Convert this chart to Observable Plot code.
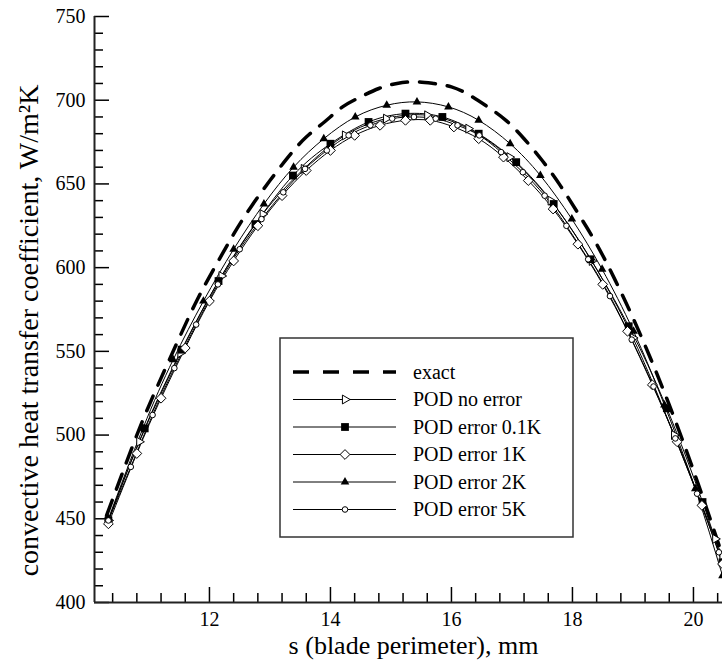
<!DOCTYPE html>
<html><head><meta charset="utf-8">
<script src="https://cdn.jsdelivr.net/npm/d3@7"></script>
<script src="https://cdn.jsdelivr.net/npm/@observablehq/plot@0.6"></script>
<style>body{margin:0;background:#fff} svg text{font-family:'Liberation Serif','Times New Roman',serif}</style>
</head><body><div id="chart"></div>
<script>
// ---- data ----
const exactS = [10.3, 10.6, 10.9, 11.2, 11.5, 11.8, 12.1, 12.4, 12.7, 13.0, 13.3, 13.6, 13.9, 14.2, 14.5, 14.8, 15.1, 15.4, 15.7, 16.0, 16.3, 16.6, 16.9, 17.2, 17.5, 17.8, 18.1, 18.4, 18.7, 19.0, 19.3, 19.6, 19.9, 20.2, 20.48];
const exactH = [452, 481, 509, 534, 558, 581, 601, 620, 637, 652, 666, 678, 687, 696, 702, 707, 710, 711, 710, 708, 703, 696, 688, 677, 664, 649, 632, 614, 593, 570, 545, 518, 489, 458, 428];

const noErrS = [10.33, 10.84, 11.52, 12.2, 12.88, 13.56, 14.24, 14.92, 15.6, 16.28, 16.96, 17.64, 18.32, 19.0, 19.68, 20.36, 20.48];
const noErrH = [449, 496, 549, 595, 632, 659, 679, 689, 691, 683, 666, 640, 604, 558, 500, 438, 428];

const err01S = [10.33, 10.93, 11.54, 12.15, 12.76, 13.38, 14.0, 14.63, 15.24, 15.85, 16.45, 17.07, 17.69, 18.30, 18.93, 19.56, 20.15, 20.48];
const err01H = [449, 504, 551, 592, 626, 655, 674, 687, 692, 690, 680, 663, 638, 605, 565, 516, 460, 424];

const err1S = [10.33, 10.8, 11.2, 11.6, 12.0, 12.4, 12.8, 13.2, 13.6, 14.0, 14.4, 14.82, 15.24, 15.65, 16.04, 16.45, 16.86, 17.27, 17.68, 18.09, 18.5, 18.91, 19.32, 19.73, 20.14, 20.48];
const err1H = [447, 489, 522, 552, 580, 604, 625, 643, 658, 670, 679, 685, 688, 688, 684, 677, 666, 652, 635, 614, 590, 562, 530, 496, 458, 423];

const err2S = [10.33, 10.9, 11.4, 11.9, 12.4, 12.9, 13.39, 13.89, 14.41, 14.93, 15.43, 15.95, 16.45, 16.97, 17.47, 17.99, 18.49, 19.01, 19.52, 20.03, 20.48];
const err2H = [450, 504, 545, 580, 611, 638, 660, 677, 690, 697, 699, 696, 688, 674, 655, 629, 599, 562, 518, 468, 416];

const err5S = [10.33, 10.7, 11.06, 11.42, 11.78, 12.14, 12.5, 12.86, 13.22, 13.58, 13.94, 14.3, 14.66, 15.02, 15.38, 15.74, 16.1, 16.46, 16.82, 17.18, 17.54, 17.9, 18.26, 18.62, 18.98, 19.34, 19.7, 20.06, 20.42];
const err5H = [449, 481, 512, 540, 566, 590, 611, 629, 645, 659, 670, 679, 685, 689, 690, 689, 685, 679, 669, 657, 643, 625, 605, 583, 557, 529, 498, 465, 430];

const legendLabels = ["exact", "POD no error", "POD error 0.1K", "POD error 1K", "POD error 2K", "POD error 5K"];

const xMajor = [12, 14, 16, 18, 20];
const xMinor = [10.4, 10.8, 11.2, 11.6, 12.4, 12.8, 13.2, 13.6, 14.4, 14.8, 15.2, 15.6, 16.4, 16.8, 17.2, 17.6, 18.4, 18.8, 19.2, 19.6, 20.4];
const yMajor = [400, 450, 500, 550, 600, 650, 700, 750];
const yMinor = [410, 420, 430, 440, 460, 470, 480, 490, 510, 520, 530, 540, 560, 570, 580, 590, 610, 620, 630, 640, 660, 670, 680, 690, 710, 720, 730, 740];

const xTitle = "s (blade perimeter), mm";
const yTitle = "convective heat transfer coefficient, W/m\u00B2K";

// ---- build tables ----
const rows = (S, H) => S.map((s, i) => ({s, h: H[i]}));
const exact = rows(exactS, exactH);
const noErr = rows(noErrS, noErrH);
const err01 = rows(err01S, err01H);
const err1 = rows(err1S, err1H);
const err2 = rows(err2S, err2H);
const err5 = rows(err5S, err5H);

const FONT = "Liberation Serif";
const thin = {x: "s", y: "h", stroke: "black", strokeWidth: 1, curve: "natural"};

const svg = Plot.plot({
  width: 722, height: 662,
  marginLeft: 94, marginRight: 0, marginTop: 16, marginBottom: 60,
  style: {fontFamily: FONT, fontSize: "20px", background: "white", color: "black", overflow: "visible"},
  x: {domain: [10.1, 20.48]},
  y: {domain: [400, 750]},
  marks: [
    Plot.axisY({ticks: yMinor, tickSize: -9, tickFormat: () => "", label: null, strokeWidth: 1.5}),
    Plot.axisY({ticks: yMajor, tickSize: -15, tickFormat: () => "", label: null, strokeWidth: 1.5}),
    Plot.axisY({ticks: yMajor, tickSize: 0, tickPadding: 9, label: null, fontSize: 20, fontFamily: FONT}),
    Plot.axisX({ticks: xMinor, tickSize: -9, tickFormat: () => "", label: null, strokeWidth: 1.5}),
    Plot.axisX({ticks: xMajor, tickSize: -15, tickFormat: () => "", label: null, strokeWidth: 1.5}),
    Plot.axisX({ticks: xMajor, tickSize: 0, tickPadding: 9, label: null, fontSize: 20, fontFamily: FONT}),
    Plot.ruleX([10.1], {stroke: "#222", strokeWidth: 2}),
    Plot.ruleY([400], {stroke: "#222", strokeWidth: 2}),
    Plot.text([yTitle], {frameAnchor: "left", textAnchor: "middle", lineAnchor: "middle", dx: -65, dy: 21, rotate: -90, fontSize: 28, fontFamily: FONT, fill: "black"}),
    Plot.text([xTitle], {frameAnchor: "bottom", textAnchor: "middle", lineAnchor: "middle", dx: 5, dy: 43, fontSize: 26, fontFamily: FONT, fill: "black"}),
    Plot.line(noErr, thin),
    Plot.line(err01, thin),
    Plot.line(err1, thin),
    Plot.line(err2, thin),
    Plot.line(err5, thin),
    Plot.line(exact, {x: "s", y: "h", stroke: "black", strokeWidth: 3.5, strokeDasharray: "16,12", curve: "natural"}),
    Plot.dot(noErr, {x: "s", y: "h", symbol: "triangle", r: 3.3, rotate: 90, fill: "white", stroke: "black", strokeWidth: 1}),
    Plot.dot(err01, {x: "s", y: "h", symbol: "square", r: 4.4, fill: "black", stroke: "none"}),
    Plot.dot(err1, {x: "s", y: "h", symbol: "diamond2", r: 4.4, fill: "white", stroke: "black", strokeWidth: 1}),
    Plot.dot(err2, {x: "s", y: "h", symbol: "triangle", r: 3.2, fill: "black", stroke: "none"}),
    Plot.dot(err5, {x: "s", y: "h", symbol: "circle", r: 2.8, fill: "white", stroke: "black", strokeWidth: 1})
  ]
});

// ---- legend (layout only) ----
const g = d3.select(svg).append("g");
g.append("rect").attr("x", 280).attr("y", 338).attr("width", 293).attr("height", 199)
  .attr("fill", "white").attr("stroke", "#333").attr("stroke-width", 1.5);
const sym = [null,
  {type: d3.symbolTriangle, r: 3.3, fill: "white", stroke: "black", rot: 90},
  {type: d3.symbolSquare, r: 4.4, fill: "black", stroke: "none", rot: 0},
  {type: d3.symbolDiamond2, r: 4.4, fill: "white", stroke: "black", rot: 0},
  {type: d3.symbolTriangle, r: 3.2, fill: "black", stroke: "none", rot: 0},
  {type: d3.symbolCircle, r: 2.8, fill: "white", stroke: "black", rot: 0}];
legendLabels.forEach((lab, i) => {
  const y = 372 + i * 27.5;
  const ln = g.append("line").attr("x1", 293).attr("x2", 396).attr("y1", y).attr("y2", y).attr("stroke", "black");
  if (i === 0) ln.attr("stroke-width", 3.5).attr("stroke-dasharray", "16,14");
  else {
    ln.attr("stroke-width", 1);
    const s = sym[i];
    g.append("path").attr("d", d3.symbol(s.type, Math.PI * s.r * s.r)())
      .attr("transform", `translate(345,${y}) rotate(${s.rot})`)
      .attr("fill", s.fill).attr("stroke", s.stroke);
  }
  g.append("text").attr("x", 413).attr("y", y).attr("dy", "0.33em")
    .attr("text-anchor", "start")
    .style("font-family", "'Liberation Serif', serif").style("font-size", "20px")
    .attr("fill", "black").text(lab);
});

document.getElementById("chart").appendChild(svg);
</script>
</body></html>
